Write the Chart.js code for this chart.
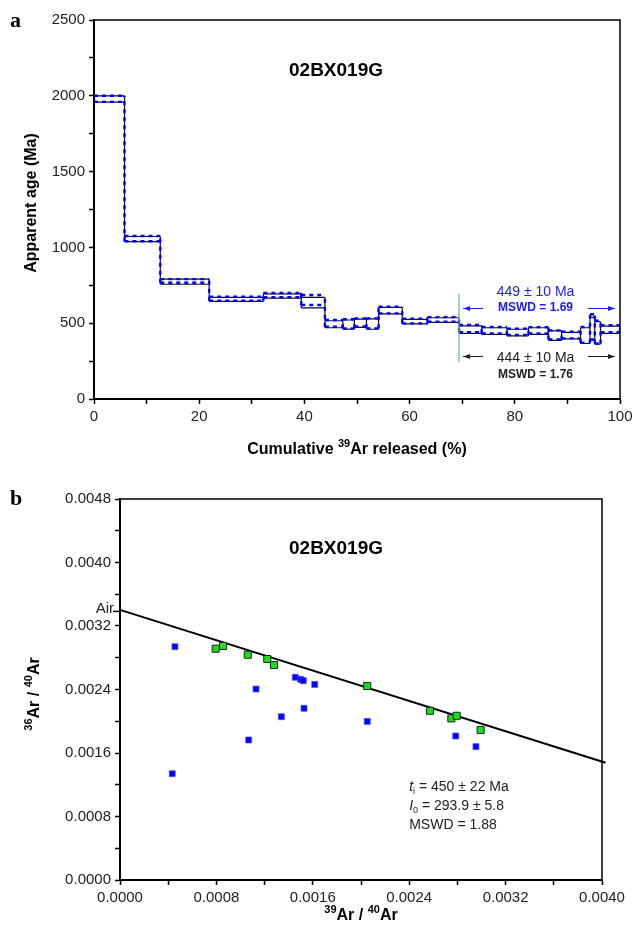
<!DOCTYPE html>
<html>
<head>
<meta charset="utf-8">
<script src="https://cdn.jsdelivr.net/npm/chart.js@4.4.1/dist/chart.umd.min.js"></script>
<style>
  html, body { margin: 0; padding: 0; background: #fff; }
  #wrap { position: relative; width: 633px; height: 932px; }
  canvas { position: absolute; left: 0; }
  #spectrum { top: 0; }
  #isochron { top: 466px; }
</style>
</head>
<body>
<div id="wrap">
  <canvas id="spectrum" width="633" height="466"></canvas>
  <canvas id="isochron" width="633" height="466"></canvas>
</div>
<script>
const SANS = '"Liberation Sans", Arial, Helvetica, sans-serif';
const SERIF = '"Liberation Serif", "Times New Roman", serif';
Chart.defaults.font.family = SANS;
Chart.defaults.color = '#222';

const sampleName = '02BX019G';

// --- age spectrum: step boundaries (cumulative % 39Ar) and ages (Ma) ---
const cumRelease = [0, 5.8, 12.6, 21.9, 32.2, 39.4, 43.9, 47.3, 49.5, 51.8, 54.1, 58.6,
                    63.4, 69.4, 73.7, 78.5, 82.6, 86.4, 88.9, 92.5, 94.3, 95.2, 96.3, 100];
const ageBlack = [1979, 1055, 774, 657, 680, 636, 493, 491, 500, 494, 583, 510,
                  521, 458, 448, 438, 448, 418, 418, 418, 464, 436, 457];
const errBlack = [21, 17, 17, 13, 14, 35, 23, 30, 27, 34, 22, 15,
                  15, 25, 22, 22, 22, 31, 22, 52, 75, 74, 24];
const ageBlue  = [1980, 1058, 779, 661, 685, 653, 499, 496, 505, 499, 587, 514,
                  525, 464, 454, 443, 453, 423, 422, 423, 476, 441, 463];
const errBlue  = [20, 17, 12, 13, 14, 33, 22, 30, 27, 33, 22, 15,
                  15, 24, 21, 21, 21, 30, 22, 52, 83, 75, 23];
const plateauRange = [69.4, 100];
const plateauBlue  = [449, 10, 1.69];   // age, error, MSWD
const plateauBlack = [444, 10, 1.76];
const ageTicks = [0, 250, 500, 750, 1000, 1250, 1500, 1750, 2000, 2250, 2500];
const releaseTicks = [0, 10, 20, 30, 40, 50, 60, 70, 80, 90, 100];

// --- inverse isochron: 39Ar/40Ar vs 36Ar/40Ar ---
const excludedX = [0.000456, 0.000434, 0.001068, 0.001129, 0.001339, 0.001455, 0.001500,
                   0.001521, 0.001527, 0.001616, 0.002052, 0.002786, 0.002954];
const excludedY = [0.002939, 0.001339, 0.001764, 0.002406, 0.002057, 0.002554, 0.002528,
                   0.002511, 0.002163, 0.002464, 0.001998, 0.001814, 0.001680];
const plateauX = [0.000794, 0.000855, 0.001060, 0.001222, 0.001278, 0.002052, 0.002573,
                  0.002750, 0.002794, 0.002993];
const plateauY = [0.002914, 0.002948, 0.002838, 0.002784, 0.002708, 0.002444, 0.002132,
                  0.002036, 0.002069, 0.001890];
const fitX = [0, 0.00403];
const fitY = [0.003403, 0.001477];
const airRatio = 0.003384;
const isoResult = ['450 ± 22 Ma', '293.9 ± 5.8', '1.88'];
const ratioTicksY = [0, 0.0004, 0.0008, 0.0012, 0.0016, 0.0020, 0.0024, 0.0028, 0.0032,
                     0.0036, 0.0040, 0.0044, 0.0048];
const ratioTicksX = [0, 0.0004, 0.0008, 0.0012, 0.0016, 0.0020, 0.0024, 0.0028, 0.0032,
                     0.0036, 0.0040];

const B16 = `bold 16px ${SANS}`;
const B11 = `bold 11px ${SANS}`;

// each step: top and bottom edges, plus verticals at every boundary
function stepOutline(edges, ages, errs) {
    const pts = [];
    const gap = x => pts.push({ x, y: null });
    ages.forEach((a, i) => {
        pts.push({ x: edges[i], y: a + errs[i] }, { x: edges[i + 1], y: a + errs[i] });
        gap(edges[i + 1]);
        pts.push({ x: edges[i], y: a - errs[i] }, { x: edges[i + 1], y: a - errs[i] });
        gap(edges[i + 1]);
    });
    edges.forEach((x, j) => {
        const near = [j - 1, j].filter(k => k >= 0 && k < ages.length);
        const lo = Math.min(...near.map(k => ages[k] - errs[k]));
        const hi = Math.max(...near.map(k => ages[k] + errs[k]));
        pts.push({ x, y: lo }, { x, y: hi });
        gap(x);
    });
    return pts;
}

function points(xs, ys) {
    return xs.map((x, i) => ({ x, y: ys[i] }));
}

function axis(ticks, labelEvery, fmt, size) {
    return {
        type: 'linear',
        min: ticks[0],
        max: ticks[ticks.length - 1],
        afterBuildTicks: s => { s.ticks = ticks.map(v => ({ value: v })); },
        afterFit: s => {
            if (s.isHorizontal()) s.height = size; else s.width = size;
            s.paddingLeft = s.paddingRight = s.paddingTop = s.paddingBottom = 0;
        },
        ticks: {
            autoSkip: false, maxRotation: 0, padding: 4, color: '#222',
            font: { size: 15 },
            callback: (v, i) => (i % labelEvery === 0 ? fmt(v) : ''),
        },
        grid:   { drawOnChartArea: false, tickLength: 5, tickColor: '#000', tickWidth: 1.5 },
        border: { color: '#000', width: 2 },
    };
}

// text made of runs: [text, font, dy]
function runs(ctx, parts, x, y, align) {
    let w = 0;
    parts.forEach(p => { ctx.font = p[1]; w += ctx.measureText(p[0]).width; });
    let cx = align === 'center' ? x - w / 2 : x;
    ctx.textAlign = 'left';
    ctx.textBaseline = 'alphabetic';
    parts.forEach(p => {
        ctx.font = p[1];
        ctx.fillText(p[0], cx, y + (p[2] || 0));
        cx += ctx.measureText(p[0]).width;
    });
}

function arrow(ctx, x0, x1, y, color) {
    const d = Math.sign(x1 - x0);
    ctx.strokeStyle = color;
    ctx.fillStyle = color;
    ctx.lineWidth = 1;
    ctx.beginPath(); ctx.moveTo(x0, y); ctx.lineTo(x1, y); ctx.stroke();
    ctx.beginPath();
    ctx.moveTo(x1, y); ctx.lineTo(x1 - d * 7, y - 2.5); ctx.lineTo(x1 - d * 7, y + 2.5);
    ctx.closePath(); ctx.fill();
}

const frame = {
    id: 'frame',
    afterDatasetsDraw(chart) {
        const { ctx, chartArea: a } = chart;
        ctx.save();
        ctx.strokeStyle = '#000';
        ctx.lineWidth = 1.5;
        ctx.strokeRect(a.left, a.top, a.right - a.left, a.bottom - a.top);
        ctx.restore();
    },
};

const spectrumText = {
    id: 'spectrumText',
    afterDraw(chart) {
        const { ctx, chartArea: a, scales: { x } } = chart;
        ctx.save();
        ctx.fillStyle = '#000';
        ctx.font = `bold 22px ${SERIF}`;
        ctx.textAlign = 'left';
        ctx.fillText('a', 10, 27);
        runs(ctx, [[sampleName, `bold 19px ${SANS}`]], 336, 76, 'center');
        runs(ctx, [['Cumulative ', B16], ['39', B11, -7], ['Ar released (%)', B16]],
             (a.left + a.right) / 2, 454, 'center');
        ctx.save();
        ctx.translate(30, 203);
        ctx.rotate(-Math.PI / 2);
        runs(ctx, [['Apparent age (Ma)', B16]], 0, 6, 'center');
        ctx.restore();

        // plateau markers
        const xs = x.getPixelForValue(plateauRange[0]);
        const xe = x.getPixelForValue(plateauRange[1]);
        const mid = (xs + 24 + xe - 32) / 2;
        ctx.strokeStyle = '#72b394';
        ctx.lineWidth = 1.2;
        ctx.beginPath(); ctx.moveTo(xs, a.bottom - 105); ctx.lineTo(xs, a.bottom - 37); ctx.stroke();

        const blue = '#1a1aff';
        arrow(ctx, xs + 24, xs + 4, a.bottom - 90.5, blue);
        arrow(ctx, xe - 32, xe - 5, a.bottom - 90.5, blue);
        ctx.fillStyle = blue;
        runs(ctx, [[`${plateauBlue[0]} ± ${plateauBlue[1]} Ma`, `14px ${SANS}`]], mid, a.bottom - 103, 'center');
        runs(ctx, [[`MSWD = ${plateauBlue[2].toFixed(2)}`, `bold 12px ${SANS}`]], mid, a.bottom - 88, 'center');

        const dark = '#222';
        arrow(ctx, xs + 24, xs + 4, a.bottom - 42.5, dark);
        arrow(ctx, xe - 32, xe - 5, a.bottom - 42.5, dark);
        ctx.fillStyle = dark;
        runs(ctx, [[`${plateauBlack[0]} ± ${plateauBlack[1]} Ma`, `14px ${SANS}`]], mid, a.bottom - 37.5, 'center');
        runs(ctx, [[`MSWD = ${plateauBlack[2].toFixed(2)}`, `bold 12px ${SANS}`]], mid, a.bottom - 21.5, 'center');
        ctx.restore();
    },
};

const isochronText = {
    id: 'isochronText',
    afterDraw(chart) {
        const { ctx, chartArea: a, scales: { x, y } } = chart;
        ctx.save();
        ctx.fillStyle = '#000';
        ctx.font = `bold 22px ${SERIF}`;
        ctx.textAlign = 'left';
        ctx.fillText('b', 10, 39);
        runs(ctx, [[sampleName, `bold 19px ${SANS}`]], 336, 88, 'center');
        runs(ctx, [['39', B11, -7], ['Ar / ', B16], ['40', B11, -7], ['Ar', B16]],
             (a.left + a.right) / 2, 454, 'center');
        ctx.save();
        ctx.translate(33, 228);
        ctx.rotate(-Math.PI / 2);
        runs(ctx, [['36', B11, -7], ['Ar / ', B16], ['40', B11, -7], ['Ar', B16]], 0, 6, 'center');
        ctx.restore();

        // atmospheric ratio on the y axis
        const ya = y.getPixelForValue(airRatio);
        ctx.strokeStyle = '#000';
        ctx.lineWidth = 1.5;
        ctx.beginPath(); ctx.moveTo(a.left - 7, ya); ctx.lineTo(a.left, ya); ctx.stroke();
        ctx.fillStyle = '#222';
        ctx.font = `15px ${SANS}`;
        ctx.textAlign = 'right';
        ctx.fillText('Air', a.left - 6, ya + 2);

        // isochron result
        const tx = x.getPixelForValue(0.0024);
        const ty = y.getPixelForValue(0.00118) + 5;
        const f = `14px ${SANS}`, fi = `italic 14px ${SANS}`, fs = `9px ${SANS}`;
        ctx.fillStyle = '#222';
        runs(ctx, [['t', fi], ['i', fs, 3], [` = ${isoResult[0]}`, f]], tx, ty, 'left');
        runs(ctx, [['I', fi], ['0', fs, 3], [` = ${isoResult[1]}`, f]], tx, ty + 18.5, 'left');
        runs(ctx, [[`MSWD = ${isoResult[2]}`, f]], tx, ty + 37.5, 'left');
        ctx.restore();
    },
};

const common = {
    responsive: false,
    animation: false,
    devicePixelRatio: 1,
    events: [],
    plugins: { legend: { display: false }, tooltip: { enabled: false } },
};

new Chart(document.getElementById('spectrum'), {
    type: 'scatter',
    data: {
        datasets: [
            {
                label: 'Spectrum (blue)',
                data: stepOutline(cumRelease, ageBlue, errBlue),
                showLine: true,
                spanGaps: false,
                borderColor: '#0000ff',
                borderWidth: 2.4,
                borderDash: [4, 4],
                pointRadius: 0,
                order: 0,
            },
            {
                label: 'Spectrum (black)',
                data: stepOutline(cumRelease, ageBlack, errBlack),
                showLine: true,
                spanGaps: false,
                borderColor: '#111',
                borderWidth: 1.2,
                pointRadius: 0,
                order: 1,
            },
        ],
    },
    options: {
        ...common,
        layout: { padding: { top: 20, right: 13, left: 0, bottom: 0 } },
        scales: {
            x: axis(releaseTicks, 2, v => String(v), 67),
            y: axis(ageTicks, 2, v => String(v), 94),
        },
    },
    plugins: [frame, spectrumText],
});

new Chart(document.getElementById('isochron'), {
    type: 'scatter',
    data: {
        datasets: [
            {
                label: 'Plateau steps',
                data: points(plateauX, plateauY),
                pointStyle: 'rect',
                pointRadius: 5,
                backgroundColor: '#18e018',
                borderColor: '#222',
                borderWidth: 1,
                order: 0,
            },
            {
                label: 'Excluded steps',
                data: points(excludedX, excludedY),
                pointStyle: 'rect',
                pointRadius: 4.2,
                backgroundColor: '#0000ff',
                borderColor: 'rgba(70,70,255,0.7)',
                borderWidth: 1,
                order: 1,
            },
            {
                label: 'Isochron',
                data: points(fitX, fitY),
                showLine: true,
                borderColor: '#000',
                borderWidth: 2,
                pointRadius: 0,
                clip: false,
                order: 2,
            },
        ],
    },
    options: {
        ...common,
        layout: { padding: { top: 33, right: 31, left: 0, bottom: 0 } },
        scales: {
            x: axis(ratioTicksX, 2, v => v.toFixed(4), 52),
            y: axis(ratioTicksY, 2, v => v.toFixed(4), 120),
        },
    },
    plugins: [frame, isochronText],
});
</script>
</body>
</html>
